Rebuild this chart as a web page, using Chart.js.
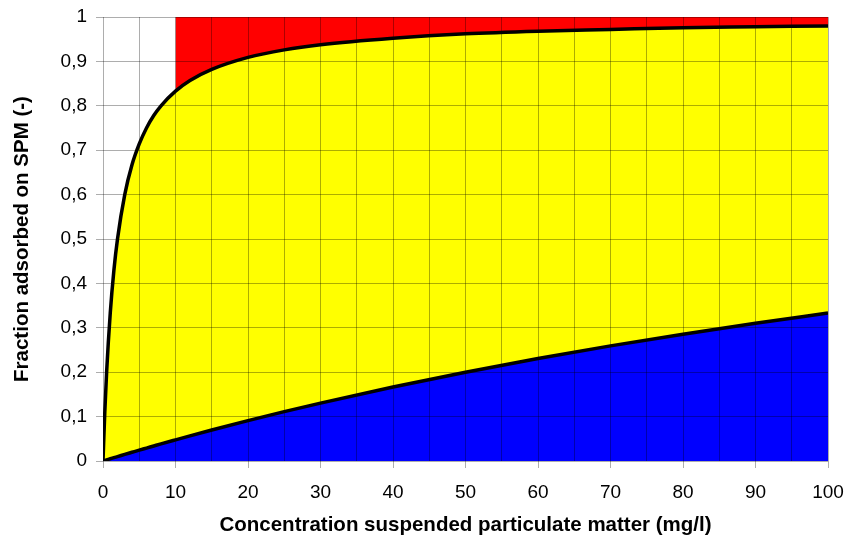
<!DOCTYPE html>
<html>
<head>
<meta charset="utf-8">
<script src="https://cdn.jsdelivr.net/npm/chart.js@4.4.1/dist/chart.umd.min.js"></script>
<style>
  body { margin: 0; background: #fff; }
</style>
</head>
<body>
<canvas id="chart" width="848" height="538"></canvas>
<script>
// concentration SPM (mg/l)
const concentration = [0, 0.25, 0.5, 1, 1.5, 2, 3, 4, 5, 6, 7, 8, 10, 12, 15, 20, 25, 30, 40, 50, 60, 70, 80, 90, 100];
// fraction adsorbed, upper curve
const upperFraction = [0, 0.111, 0.2, 0.333, 0.429, 0.5, 0.6, 0.667, 0.714, 0.75, 0.778, 0.8, 0.833, 0.857, 0.882, 0.909, 0.926, 0.9375, 0.952, 0.962, 0.968, 0.972, 0.976, 0.978, 0.98];
// fraction adsorbed, lower curve
const lowerFraction = [0, 0.0012, 0.0025, 0.005, 0.0075, 0.0099, 0.0148, 0.0196, 0.0244, 0.0291, 0.0338, 0.0385, 0.0476, 0.0566, 0.0698, 0.0909, 0.1111, 0.1304, 0.1667, 0.2, 0.2308, 0.2593, 0.2857, 0.3103, 0.3333];
// red zone starts at this concentration
const redStart = 10;

const xTickLabels = ['0', '10', '20', '30', '40', '50', '60', '70', '80', '90', '100'];
const yTickLabels = ['0', '0,1', '0,2', '0,3', '0,4', '0,5', '0,6', '0,7', '0,8', '0,9', '1'];

function toPoints(xs, ys) {
    return xs.map((x, i) => ({ x: x, y: ys[i] }));
}

const upperPoints = toPoints(concentration, upperFraction);
const lowerPoints = toPoints(concentration, lowerFraction);
const redPoints = upperPoints.filter(p => p.x >= redStart);

const gridColor = 'rgba(0,0,0,0.32)';
const fontFamily = '"Liberation Sans", Arial, sans-serif';

new Chart(document.getElementById('chart'), {
    type: 'line',
    data: {
        datasets: [
            {
                data: redPoints,
                borderWidth: 0,
                borderColor: 'rgba(0,0,0,0)',
                backgroundColor: '#ff0000',
                fill: 'end',
                pointRadius: 0,
                cubicInterpolationMode: 'monotone'
            },
            {
                data: upperPoints,
                borderWidth: 3.5,
                borderColor: '#000',
                backgroundColor: '#ffff00',
                fill: '+1',
                pointRadius: 0,
                cubicInterpolationMode: 'monotone'
            },
            {
                data: lowerPoints,
                borderWidth: 3.5,
                borderColor: '#000',
                backgroundColor: '#0000ff',
                fill: 'origin',
                pointRadius: 0,
                cubicInterpolationMode: 'monotone'
            }
        ]
    },
    options: {
        responsive: false,
        animation: false,
        layout: { padding: { top: 17, right: 20, left: 0, bottom: 0 } },
        plugins: {
            legend: { display: false },
            tooltip: { enabled: false },
            filler: { drawTime: 'beforeDraw' }
        },
        scales: {
            x: {
                type: 'linear',
                min: 0,
                max: 100,
                afterFit: (scale) => {
                    scale.height = 77;
                    scale.paddingLeft = 0;
                    scale.paddingRight = 0;
                },
                grid: {
                    color: gridColor,
                    lineWidth: 1,
                    tickLength: 7,
                    tickColor: (ctx) => (ctx.tick && ctx.tick.value % 10 === 0) ? gridColor : 'rgba(0,0,0,0)'
                },
                border: { display: false },
                ticks: {
                    stepSize: 5,
                    autoSkip: false,
                    maxRotation: 0,
                    padding: 13,
                    color: '#000',
                    font: { family: fontFamily, size: 19 },
                    callback: (value) => value % 10 === 0 ? xTickLabels[value / 10] : ''
                },
                title: {
                    display: true,
                    text: 'Concentration suspended particulate matter (mg/l)',
                    color: '#000',
                    font: { family: fontFamily, size: 20.5, weight: 'bold' },
                    padding: { top: 0, bottom: 0 }
                }
            },
            y: {
                min: 0,
                max: 1,
                afterFit: (scale) => {
                    scale.width = 103;
                    scale.paddingTop = 0;
                    scale.paddingBottom = 0;
                },
                grid: {
                    color: gridColor,
                    lineWidth: 1,
                    tickLength: 7,
                    tickColor: gridColor
                },
                border: { display: false },
                ticks: {
                    stepSize: 0.1,
                    padding: 9,
                    color: '#000',
                    font: { family: fontFamily, size: 19 },
                    callback: (value, index) => yTickLabels[index]
                },
                title: {
                    display: true,
                    text: 'Fraction adsorbed on SPM (-)',
                    color: '#000',
                    font: { family: fontFamily, size: 20.5, weight: 'bold' },
                    padding: { top: 10, bottom: 0 }
                }
            }
        }
    }
});
</script>
</body>
</html>
